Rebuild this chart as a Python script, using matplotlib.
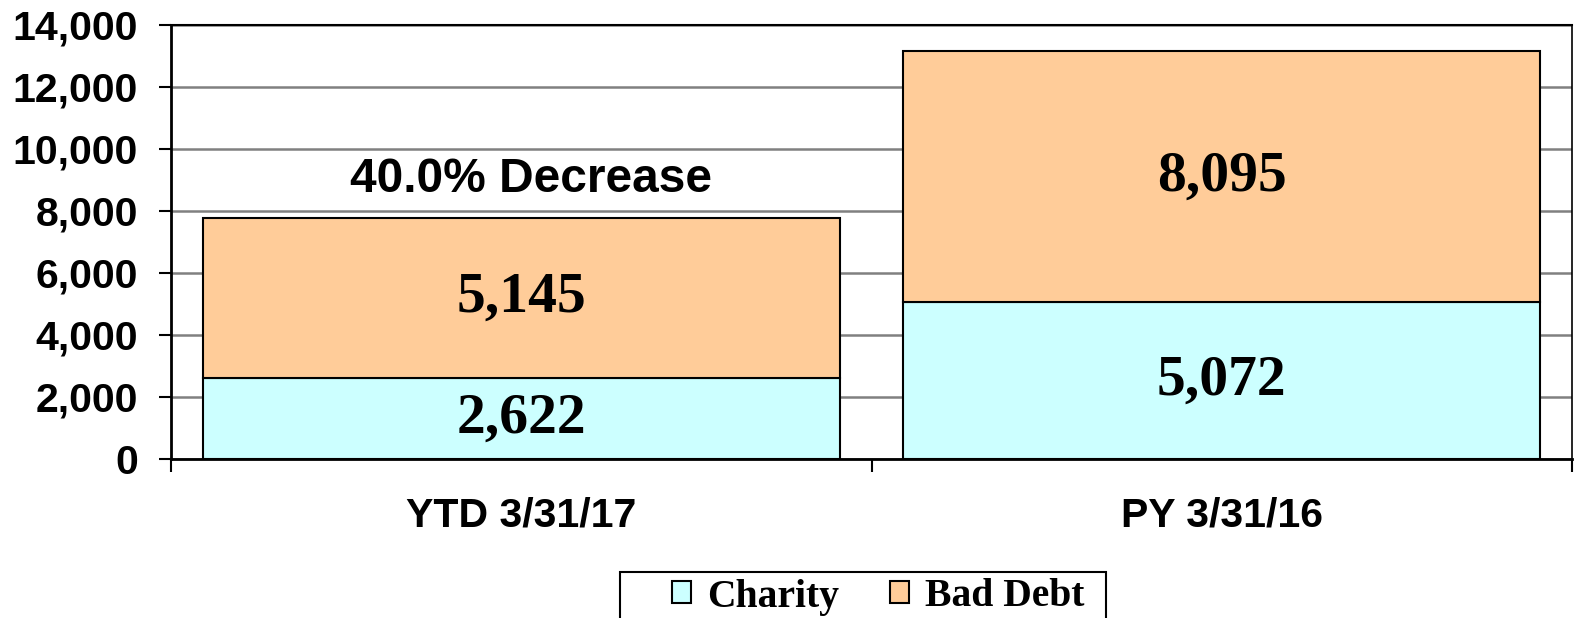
import matplotlib.pyplot as plt
from matplotlib.patches import Rectangle
import numpy as np

# data
categories = ['YTD 3/31/17', 'PY 3/31/16']
charity = [2622, 5072]
bad_debt = [5145, 8095]
note = '40.0% Decrease'

sans = ['Liberation Sans', 'DejaVu Sans']
serif = ['Liberation Serif', 'DejaVu Serif']

W, H = 1576, 618
fig = plt.figure(figsize=(W / 100, H / 100), dpi=100)
ax = fig.add_axes([171 / W, 1 - 459 / H, (1572 - 171) / W, (459 - 25) / H])

x = np.arange(len(categories))
b1 = ax.bar(x, charity, width=0.91, color='#CCFFFF', edgecolor='black', linewidth=1.5,
            label='Charity', zorder=3)
b2 = ax.bar(x, bad_debt, width=0.91, bottom=charity, color='#FFCC99', edgecolor='black',
            linewidth=1.5, label='Bad Debt', zorder=3)

# segment labels
for i in range(len(categories)):
    ax.text(x[i], charity[i] / 2, f'{charity[i]:,}', ha='center', va='center',
            family=serif, fontweight='bold', fontsize=41.5, zorder=4)
    ax.text(x[i], charity[i] + bad_debt[i] / 2, f'{bad_debt[i]:,}', ha='center', va='center',
            family=serif, fontweight='bold', fontsize=41.5, zorder=4)

ax.text(x[0] + 0.014, 9000, note, ha='center', va='center', family=sans, fontweight='bold',
        fontsize=34.5, zorder=4)

ax.set_xlim(-0.5, 1.5)
ax.set_ylim(0, 14000)
ax.set_yticks(np.arange(0, 14001, 2000))
ax.set_yticklabels([f'{v:,}' for v in range(0, 14001, 2000)], family=sans,
                   fontweight='bold', fontsize=29.5)
ax.yaxis.grid(True, color='#808080', linewidth=1.8, zorder=0)
ax.set_axisbelow(True)

ax.set_xticks([-0.5, 0.5, 1.5])
ax.set_xticklabels([])
ax.set_xticks(x, minor=True)
ax.set_xticklabels(categories, minor=True, family=sans, fontweight='bold', fontsize=29.5)
ax.tick_params(axis='x', which='minor', length=0, pad=27)
ax.tick_params(axis='x', which='major', length=9, width=1.5, direction='out')
ax.tick_params(axis='y', length=9, width=1.5, direction='out', pad=15)

for s in ['left', 'bottom']:
    ax.spines[s].set_linewidth(2)
ax.spines['top'].set_linewidth(1.5)
ax.spines['right'].set_linewidth(1.2)

# legend box (runs off the bottom edge like the original)
fig.patches.append(Rectangle((620 / W, -0.05), (1106 - 620) / W, 0.05 + 1 - 572 / H,
                             transform=fig.transFigure, fill=False, edgecolor='black',
                             linewidth=1.5))
leg = fig.legend(handles=[b1, b2], loc='center left', bbox_to_anchor=(672 / W, 1 - 597 / H),
                 ncol=2, frameon=False,
                 prop={'family': serif, 'weight': 'bold', 'size': 28.5},
                 handlelength=0.48, handleheight=0.48, handletextpad=0.4, columnspacing=1.3,
                 borderpad=0, borderaxespad=0)

plt.savefig('out.png', dpi=100)
